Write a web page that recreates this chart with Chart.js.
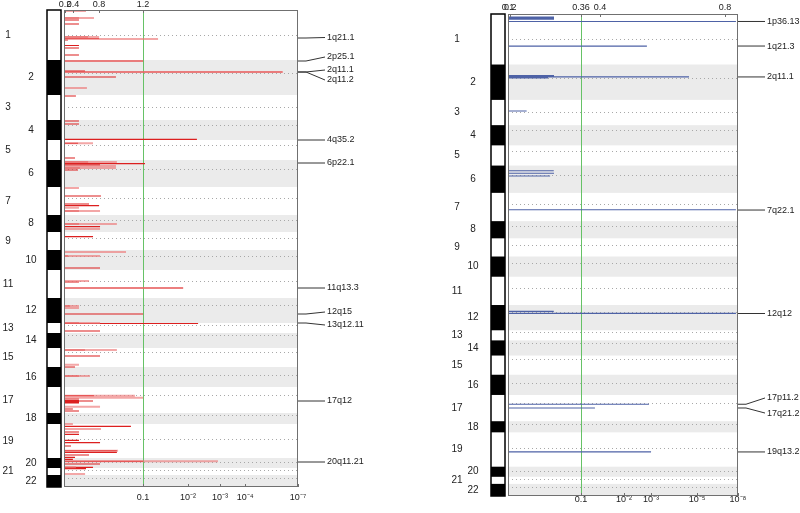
<!DOCTYPE html>
<html>
<head>
<meta charset="utf-8">
<script src="https://cdn.jsdelivr.net/npm/chart.js@4.4.0/dist/chart.umd.min.js"></script>
<style>
  body { margin: 0; background: #fff; }
  .panel { position: absolute; top: 0; width: 400px; height: 513px; }
</style>
</head>
<body>
<div class="panel" style="left:0"><canvas id="ampChart"></canvas></div>
<div class="panel" style="left:400px"><canvas id="delChart"></canvas></div>
<script>
// genome axis: chromosome sizes in plot units, centromere as fraction of each chromosome
const chromosomes = ['1','2','3','4','5','6','7','8','9','10','11','12','13','14','15','16','17','18','19','20','21','22'];
const chrLen = [50, 35, 25, 20, 20, 27, 28, 17, 18, 20, 28, 25, 10, 15, 19, 20, 26, 11, 34, 10, 7, 12];
const cenFrac = [0.50, 0.38, 0.46, 0.26, 0.27, 0.35, 0.38, 0.31, 0.35, 0.30, 0.40, 0.27, 0.16, 0.16, 0.19, 0.41, 0.30, 0.22, 0.45, 0.44, 0.28, 0.29];

// amplifications (left): genome position, score (0-100 along the axis)
const ampDarkPos = [8, 10, 14, 27, 28.5, 30, 35.5, 38, 45, 51, 61, 62, 67, 86, 111, 114, 129.3, 133.3,
  148, 152, 153.6, 155, 158, 160, 186, 194, 195.7, 201, 214, 216.7, 226.7, 246, 258, 272, 278, 296,
  304, 313, 313.5, 321, 340, 346, 357, 366, 385.7, 389, 390.5, 391, 392, 393, 399, 401, 416.3, 422,
  424.3, 430.3, 432.7, 436, 440.7, 442.3, 445, 447.3, 449.3, 451.3, 454, 457.3, 458.7];
const ampDarkScore = [6.4, 6.4, 6.4, 10.3, 15.0, 1.7, 6.4, 6.4, 6.4, 33.8, 9.0, 93.2, 22.2, 5.1, 6.4, 6.4, 56.8, 6.0,
  4.7, 10.3, 34.6, 15.4, 6.8, 6.0, 15.8, 10.7, 15.0, 6.4, 6.4, 15.4, 12.4, 1.7, 15.4, 6.4, 50.9, 2.6,
  33.8, 6.4, 57.3, 15.4, 9.0, 15.4, 4.7, 6.4, 12.8, 6.4, 6.4, 12.4, 6.4, 6.4, 3.8, 6.4, 28.6, 6.4,
  6.4, 6.4, 15.4, 3.0, 22.6, 22.6, 10.7, 4.7, 3.8, 33.8, 15.4, 12.4, 9.4];
const ampLightPos = [1, 8, 27, 29, 51, 62, 78, 133.3, 152, 156, 158, 178, 197.7, 201, 214, 219, 242, 246,
  271, 278, 296, 298, 313, 340, 354.7, 366, 385.7, 387.7, 396.7, 414, 419, 440.7, 451.3, 457.3, 464];
const ampLightScore = [9.4, 12.8, 15.0, 40.2, 33.8, 93.6, 9.8, 12.4, 22.6, 22.2, 22.2, 6.4, 6.4, 15.4, 22.6, 15.4, 26.5, 15.4,
  10.7, 50.9, 6.4, 6.4, 15.4, 22.6, 6.4, 11.1, 30.3, 33.8, 15.4, 3.8, 15.8, 23.1, 65.8, 5.1, 9.0];

// deletions (right)
const delPos = [3.0, 4.0, 5.0, 7.4, 31.7, 60.9, 61.9, 62.3, 63.3, 96.0, 155.1, 157.6, 160.3, 193.7, 294.2, 296.2, 386.2, 389.9, 433.4];
const delScore = [20.0, 20.0, 20.0, 99.1, 60.4, 20.0, 20.0, 78.7, 17.4, 8.1, 19.9, 20.0, 18.3, 99.1, 19.9, 99.1, 61.3, 37.8, 62.2];

// peak labels
const ampPeaks = ['1q21.1', '2p25.1', '2q11.1', '2q11.2', '4q35.2', '6p22.1', '11q13.3', '12q15', '13q12.11', '17q12', '20q11.21'];
const ampPeakPos = [28, 51, 62, 62, 130, 153, 278, 304, 313, 391, 452];
const ampLabelPos = [27.5, 47, 60, 70, 130, 153, 278, 302, 315, 391, 452];
const delPeaks = ['1p36.13', '1q21.3', '2q11.1', '7q22.1', '12q12', '17p11.2', '17q21.2', '19q13.2'];
const delPeakPos = [7.4, 31.7, 62.3, 194, 296.4, 386.2, 389.9, 433.4];
const delLabelPos = [7.4, 31.7, 62.3, 194, 296.4, 380.0, 394.9, 433.4];

// axes: G-score on top, q-value at the bottom
const ampGLabels = ['0.2', '0.4', '0.8', '1.2'];
const ampGTicks = [0.4, 3.8, 15.0, 33.8];
const ampQLabels = ['0.1', '10⁻²', '10⁻³', '10⁻⁴', '10⁻⁷'];
const ampQTicks = [33.8, 53.0, 66.7, 77.4, 100];
const delGLabels = ['0.1', '0.2', '0.36', '0.4', '0.8'];
const delGTicks = [0.0, 1.0, 31.7, 40.0, 94.3];
const delQLabels = ['0.1', '10⁻²', '10⁻³', '10⁻⁵', '10⁻⁸'];
const delQTicks = [31.7, 50.4, 62.2, 82.2, 100];
const ampCutoff = 33.8;
const delCutoff = 31.7;

const genomeSize = chrLen.reduce((s, v) => s + v, 0);
const FONT = 'Liberation Sans, Arial, Helvetica, sans-serif';

function segments(pos, score) {
  const out = [];
  pos.forEach((p, i) => {
    out.push({x: 0, y: p}, {x: score[i], y: p}, {x: null, y: null});
  });
  return out;
}

function panelPlugin(p) {
  return {
    id: 'panel_' + p.name,
    beforeDatasetsDraw(chart) {
      const {ctx, chartArea: a, scales: {x, y}} = chart;
      ctx.save();
      let start = 0;
      chrLen.forEach((len, i) => {
        const top = y.getPixelForValue(start), bot = y.getPixelForValue(start + len);
        if (i % 2 === 1) {
          ctx.fillStyle = '#ebebeb';
          ctx.fillRect(a.left, top, a.right - a.left, bot - top);
        }
        start += len;
      });
      ctx.strokeStyle = '#a8a8a8';
      ctx.lineWidth = 1;
      ctx.setLineDash([1, 3]);
      start = 0;
      chrLen.forEach((len, i) => {
        const py = Math.round(y.getPixelForValue(start + len * cenFrac[i])) + 0.5;
        ctx.beginPath(); ctx.moveTo(a.left, py); ctx.lineTo(a.right, py); ctx.stroke();
        start += len;
      });
      ctx.setLineDash([]);
      const gx = Math.round(x.getPixelForValue(p.cutoff)) + 0.5;
      ctx.strokeStyle = '#66c266';
      ctx.beginPath(); ctx.moveTo(gx, a.top); ctx.lineTo(gx, a.bottom); ctx.stroke();
      ctx.restore();
    },
    afterDraw(chart) {
      const {ctx, chartArea: a, scales: {x, x2, y}} = chart;
      ctx.save();
      // frame
      ctx.strokeStyle = '#707070';
      ctx.lineWidth = 1;
      ctx.strokeRect(a.left + 0.5, a.top + 0.5, a.right - a.left - 1, a.bottom - a.top - 1);
      // inward tick marks
      ctx.beginPath();
      x2.ticks.forEach(t => {
        const px = Math.round(x2.getPixelForValue(t.value)) + 0.5;
        ctx.moveTo(px, a.top); ctx.lineTo(px, a.top + 3);
      });
      x.ticks.forEach(t => {
        const px = Math.round(x.getPixelForValue(t.value)) + 0.5;
        ctx.moveTo(px, a.bottom); ctx.lineTo(px, a.bottom - 3);
      });
      ctx.stroke();
      // ideogram
      let start = 0;
      ctx.fillStyle = '#000';
      chrLen.forEach((len, i) => {
        const top = y.getPixelForValue(start), bot = y.getPixelForValue(start + len);
        if (i % 2 === 1) ctx.fillRect(p.ideoLeft, top, p.ideoRight - p.ideoLeft, bot - top);
        start += len;
      });
      ctx.strokeStyle = '#000';
      ctx.lineWidth = 1.5;
      ctx.strokeRect(p.ideoLeft, a.top, p.ideoRight - p.ideoLeft, a.bottom - a.top);
      // chromosome names
      ctx.font = '10px ' + FONT;
      ctx.fillStyle = '#222';
      ctx.textAlign = 'center';
      ctx.textBaseline = 'middle';
      start = 0;
      chrLen.forEach((len, i) => {
        const cy = y.getPixelForValue(start + len / 2);
        ctx.fillText(chromosomes[i], i % 2 === 0 ? p.oddX : p.evenX, cy);
        start += len;
      });
      // peak labels
      ctx.font = '9px ' + FONT;
      ctx.textAlign = 'left';
      ctx.strokeStyle = '#333';
      ctx.lineWidth = 1;
      p.peaks.forEach((name, i) => {
        const py = y.getPixelForValue(p.peakPos[i]);
        const ly = y.getPixelForValue(p.labelPos[i]);
        ctx.beginPath();
        ctx.moveTo(a.right, py);
        ctx.lineTo(a.right + 8, py);
        ctx.lineTo(a.right + 27, ly);
        ctx.stroke();
        ctx.fillText(name, a.right + 29, ly);
      });
      ctx.restore();
    }
  };
}

function makePanel(id, p) {
  return new Chart(document.getElementById(id), {
    type: 'line',
    data: {
      datasets: p.datasets
    },
    options: {
      responsive: true,
      maintainAspectRatio: false,
      animation: false,
      events: [],
      layout: { padding: { left: p.padLeft, right: p.padRight, top: 0, bottom: 0 } },
      plugins: { legend: { display: false }, tooltip: { enabled: false } },
      elements: { point: { radius: 0 } },
      scales: {
        y: { type: 'linear', reverse: true, min: 0, max: genomeSize, display: false },
        x: {
          type: 'linear', position: 'bottom', min: 0, max: 100,
          grid: { display: false, drawTicks: false },
          border: { display: false },
          afterBuildTicks: s => { s.ticks = p.qTicks.map(v => ({value: v})); },
          afterFit: s => { s.height = p.bottomH; },
          ticks: {
            autoSkip: false, maxRotation: 0, padding: p.qPad,
            color: '#222', font: { family: FONT, size: 9 },
            callback: (v, i) => p.qLabels[i]
          }
        },
        x2: {
          type: 'linear', position: 'top', min: 0, max: 100,
          grid: { display: false, drawTicks: false },
          border: { display: false },
          afterBuildTicks: s => { s.ticks = p.gTicks.map(v => ({value: v})); },
          afterFit: s => { s.height = p.topH; },
          ticks: {
            autoSkip: false, maxRotation: 0, padding: p.gPad,
            color: '#222', font: { family: FONT, size: 9 },
            callback: (v, i) => p.gLabels[i]
          }
        }
      }
    },
    plugins: [panelPlugin(p)]
  });
}

makePanel('ampChart', {
  name: 'amp',
  datasets: [
    { data: segments(ampLightPos, ampLightScore), borderColor: 'rgba(236,120,120,0.65)', borderWidth: 2, spanGaps: false },
    { data: segments(ampDarkPos, ampDarkScore), borderColor: '#dc1f1f', borderWidth: 1.2, spanGaps: false }
  ],
  padLeft: 64, padRight: 102, topH: 10, bottomH: 26, gPad: 0, qPad: 5,
  ideoLeft: 47, ideoRight: 61, oddX: 8, evenX: 31,
  gTicks: ampGTicks, gLabels: ampGLabels, qTicks: ampQTicks, qLabels: ampQLabels,
  cutoff: ampCutoff, peaks: ampPeaks, peakPos: ampPeakPos, labelPos: ampLabelPos
});

makePanel('delChart', {
  name: 'del',
  datasets: [
    { data: segments(delPos, delScore), borderColor: '#4e62a6', borderWidth: 1.2, spanGaps: false }
  ],
  padLeft: 108, padRight: 62, topH: 14, bottomH: 17, gPad: 1, qPad: -2,
  ideoLeft: 91, ideoRight: 105, oddX: 57, evenX: 73,
  gTicks: delGTicks, gLabels: delGLabels, qTicks: delQTicks, qLabels: delQLabels,
  cutoff: delCutoff, peaks: delPeaks, peakPos: delPeakPos, labelPos: delLabelPos
});
</script>
</body>
</html>
